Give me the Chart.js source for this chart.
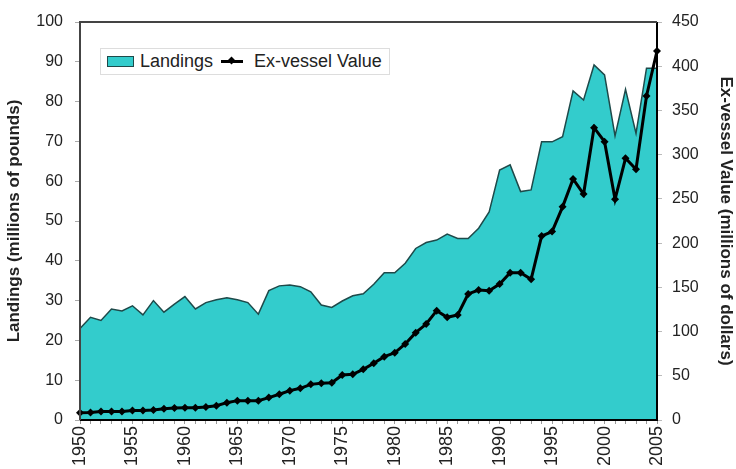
<!DOCTYPE html>
<html>
<head>
<meta charset="utf-8">
<script src="https://cdn.jsdelivr.net/npm/chart.js@4/dist/chart.umd.min.js"></script>
<style>
    html, body { margin: 0; padding: 0; background: #fff; overflow: hidden; }
    #wrap { position: relative; width: 736px; height: 469px; }
    #legend {
        position: absolute; left: 100px; top: 48px; height: 25px;
        padding: 0 7px 0 6px; border: 1px solid #ddd; background: #fff;
        display: flex; align-items: center;
        font-family: "Liberation Sans", Arial, sans-serif; font-size: 18px; color: #222;
    }
    .sw-box { width: 25px; height: 9px; background: #33cccc; border: 1px solid #1e4a4a; margin-right: 6px; }
    .sw-line { position: relative; width: 22px; height: 3px; background: #000; margin: 0 11px 0 8px; }
    .sw-line i { position: absolute; left: 7px; top: -3px; width: 7px; height: 7px; background: #000; transform: rotate(45deg) scale(0.8); }
</style>
</head>
<body>
<div id="wrap">
    <canvas id="chart" width="736" height="469"></canvas>
    <div id="legend">
        <span class="sw-box"></span><span>Landings</span>
        <span class="sw-line"><i></i></span><span>Ex-vessel Value</span>
    </div>
</div>
<script>
const years = [
    1950, 1951, 1952, 1953, 1954, 1955, 1956, 1957, 1958, 1959,
    1960, 1961, 1962, 1963, 1964, 1965, 1966, 1967, 1968, 1969,
    1970, 1971, 1972, 1973, 1974, 1975, 1976, 1977, 1978, 1979,
    1980, 1981, 1982, 1983, 1984, 1985, 1986, 1987, 1988, 1989,
    1990, 1991, 1992, 1993, 1994, 1995, 1996, 1997, 1998, 1999,
    2000, 2001, 2002, 2003, 2004, 2005
];

// millions of pounds (left axis)
const landings = [
    23.0, 25.8, 25.0, 27.9, 27.4, 28.7, 26.4, 30.0, 27.1, 29.1,
    31.0, 27.9, 29.5, 30.2, 30.7, 30.2, 29.5, 26.6, 32.5, 33.7,
    33.9, 33.5, 32.2, 28.9, 28.3, 29.9, 31.2, 31.7, 34.1, 37.0,
    37.0, 39.4, 43.1, 44.6, 45.2, 46.7, 45.6, 45.6, 48.2, 52.3,
    62.8, 64.1, 57.4, 57.8, 69.9, 69.9, 71.2, 82.7, 80.4, 89.2,
    86.7, 71.4, 83.1, 72.0, 88.4, 88.4
];

// millions of dollars (right axis)
const exVessel = [
    8.3, 8.5, 9.6, 9.6, 9.6, 10.8, 10.8, 11.3, 12.8, 13.5,
    13.9, 13.9, 14.7, 16.2, 19.6, 21.9, 21.9, 21.9, 25.3, 29.1,
    33.2, 35.8, 40.3, 41.5, 42.2, 50.9, 51.6, 57.3, 64.1, 71.6,
    76.0, 85.9, 98.7, 108.5, 123.6, 116.1, 118.7, 142.5, 147.0, 146.2,
    153.8, 166.6, 166.6, 159.0, 208.0, 213.0, 241.0, 272.5, 255.5, 330.5,
    314.7, 249.5, 295.9, 283.5, 366.3, 417.2
];

const FONT = "'Liberation Sans', Arial, sans-serif";

// plot frame drawn over the fill, placed from the scales themselves
const frame = {
    id: 'plotFrame',
    afterDatasetsDraw(chart) {
        const ctx = chart.ctx;
        const sx = chart.scales.x, sy = chart.scales.y;
        const l = sx.getPixelForValue(0);
        const r = sx.getPixelForValue(years.length - 1);
        const t = sy.getPixelForValue(100);
        const b = sy.getPixelForValue(0);
        ctx.save();
        ctx.lineWidth = 2;
        ctx.strokeStyle = '#000';
        ctx.beginPath();
        ctx.moveTo(r, t);
        ctx.lineTo(r, b);
        ctx.lineTo(l, b);
        ctx.stroke();
        ctx.strokeStyle = '#444';
        ctx.beginPath();
        ctx.moveTo(r, t);
        ctx.lineTo(l, t);
        ctx.lineTo(l, b);
        ctx.stroke();
        ctx.restore();
    }
};

new Chart(document.getElementById('chart'), {
    type: 'line',
    data: {
        labels: years,
        datasets: [
            {
                label: 'Ex-vessel Value',
                data: exVessel,
                yAxisID: 'y2',
                borderColor: '#000',
                backgroundColor: '#000',
                borderWidth: 3,
                pointStyle: 'rectRot',
                pointRadius: 4,
                pointBorderWidth: 0,
                tension: 0,
                order: 0
            },
            {
                label: 'Landings',
                data: landings,
                yAxisID: 'y',
                borderColor: '#1e4a4a',
                backgroundColor: '#33cccc',
                borderWidth: 1.5,
                pointRadius: 0,
                fill: 'origin',
                tension: 0,
                order: 1
            }
        ]
    },
    options: {
        responsive: false,
        animation: false,
        devicePixelRatio: 1,
        layout: { padding: { top: 22, left: 0, right: 0, bottom: 0 } },
        plugins: { legend: { display: false }, tooltip: { enabled: false } },
        scales: {
            x: {
                type: 'category',
                offset: false,
                grid: { display: true, drawOnChartArea: false, color: '#999', tickLength: 4 },
                border: { display: false },
                ticks: {
                    autoSkip: false,
                    minRotation: 90,
                    maxRotation: 90,
                    padding: 2,
                    color: '#222',
                    font: { family: FONT, size: 18 },
                    callback: function (v) {
                        const yr = years[v];
                        return yr % 5 === 0 ? String(yr) : '';
                    }
                },
                afterFit: s => { s.height = 49; }
            },
            y: {
                position: 'left',
                min: 0,
                max: 100,
                grid: { display: true, drawOnChartArea: false, color: '#aaa', tickLength: 5 },
                border: { display: false },
                ticks: { stepSize: 10, padding: 12, color: '#222', font: { family: FONT, size: 16 } },
                title: {
                    display: true,
                    text: 'Landings (millions of pounds)',
                    color: '#222',
                    padding: { top: 4, bottom: 0 },
                    font: { family: FONT, size: 17, weight: 'bold' }
                },
                afterFit: s => { s.width = 80; }
            },
            y2: {
                position: 'right',
                min: 0,
                max: 450,
                grid: { display: true, drawOnChartArea: false, color: '#bbb', tickLength: 5 },
                border: { display: false },
                ticks: { stepSize: 50, padding: 10, color: '#222', font: { family: FONT, size: 16 } },
                title: {
                    display: true,
                    text: 'Ex-vessel Value (millions of dollars)',
                    color: '#222',
                    padding: { top: 0, bottom: 0 },
                    font: { family: FONT, size: 17, weight: 'bold' }
                },
                afterFit: s => { s.width = 79; }
            }
        }
    },
    plugins: [frame]
});
</script>
</body>
</html>
